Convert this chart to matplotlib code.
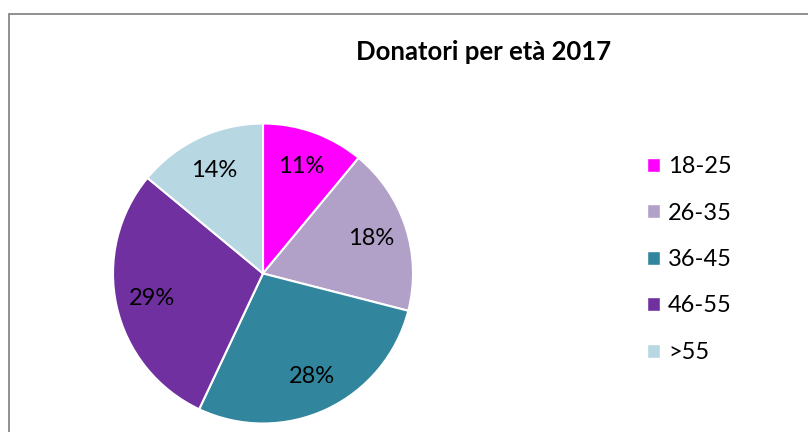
import matplotlib
matplotlib.use('Agg')
import matplotlib.pyplot as plt
from matplotlib.patches import Rectangle, Patch

# data
categorie = ['18-25', '26-35', '36-45', '46-55', '>55']
valori = [11, 18, 28, 29, 14]
colori = ['#FF00FF', '#B1A0C7', '#31859C', '#7030A0', '#B7D7E3']
titolo = 'Donatori per età 2017'

plt.rcParams['font.family'] = ['Lato', 'DejaVu Sans']

W, H = 808, 432
fig = plt.figure(figsize=(W / 100, H / 100), dpi=100)

# chart frame (cropped on the right and bottom)
fig.patches.append(Rectangle((9 / W, -0.1), 1.2, 1.1 - 14 / H,
                             transform=fig.transFigure, fill=False,
                             edgecolor='#888888', linewidth=1.3))

# pie
r = 151.5
cx, cy = 263, 273.5
ax = fig.add_axes([(cx - r) / W, (H - cy - r) / H, 2 * r / W, 2 * r / H])
wedges, texts, autotexts = ax.pie(
    valori, colors=colori, startangle=90, counterclock=False,
    autopct='%d%%', pctdistance=0.76, radius=1,
    wedgeprops=dict(edgecolor='white', linewidth=1.5),
    textprops=dict(fontsize=17, color='black'))
ax.set_xlim(-1.01, 1.01)
ax.set_ylim(-1.01, 1.01)
ax.set_aspect('equal')
ax.axis('off')

fig.text(484 / W, 1 - 52 / H, titolo, ha='center', va='center',
         fontsize=18.5, fontweight='bold')

handles = [Patch(facecolor=c, edgecolor='white') for c in colori]
fig.legend(handles, categorie, loc='center left',
           bbox_to_anchor=(647 / W, 1 - 259.5 / H), frameon=False,
           fontsize=17, handlelength=0.55, handleheight=0.55,
           handletextpad=0.35, labelspacing=1.08, borderpad=0,
           borderaxespad=0)

fig.savefig('out.png', dpi=100)
